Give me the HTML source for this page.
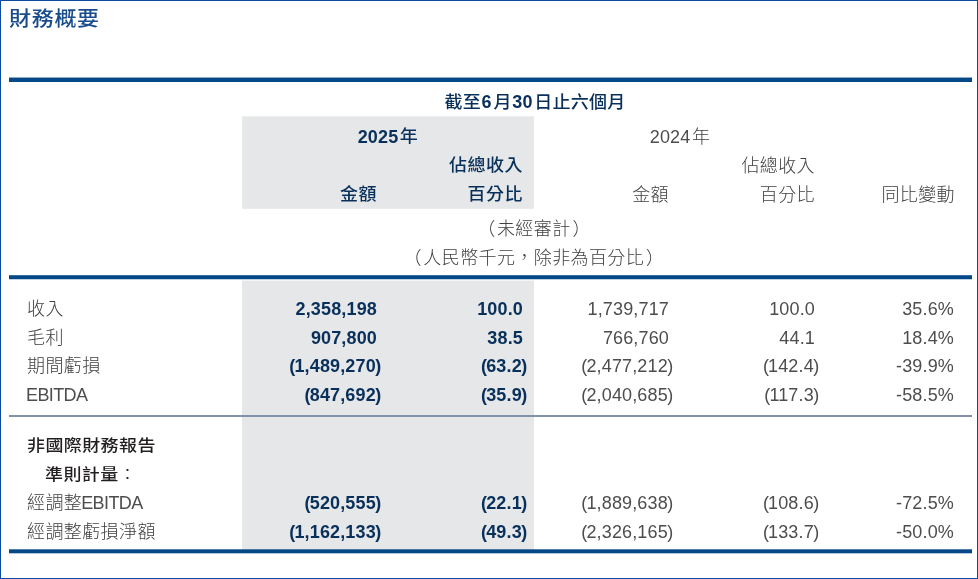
<!DOCTYPE html>
<html lang="zh-Hant">
<head>
<meta charset="utf-8">
<title>財務概要</title>
<style>
html,body{margin:0;padding:0;background:#fff;}
body{width:978px;height:579px;position:relative;overflow:hidden;
 font-family:"Liberation Sans","Noto Sans CJK TC",sans-serif;font-size:18px;line-height:28px;}
#frame{position:absolute;left:0;top:0;width:976px;height:577px;border:1px solid #0c4ba1;}
.bg{position:absolute;background:#e6e7e8;}
.rule{position:absolute;left:9px;width:963px;}
.thin{position:absolute;left:9px;width:963px;background:#8192a8;}
h1{position:absolute;margin:0;left:9px;top:4px;transform:scaleY(.92);transform-origin:0 26px;font-size:22px;line-height:30px;font-weight:500;letter-spacing:.7px;color:#184c8a;white-space:nowrap;}
.c,.l,.m{position:absolute;white-space:nowrap;height:28px;}
.c{text-align:right;}
.m{text-align:center;}
.b{font-weight:700;color:#09305a;letter-spacing:.15px;}
.b .k{font-weight:500;letter-spacing:.5px;}
.n{font-weight:400;color:#4d4d4f;letter-spacing:.15px;}
.n .k{font-weight:300;letter-spacing:.4px;color:#404042;}
.d{font-weight:500;color:#231f20;}
.d .k{letter-spacing:.4px;}
.d .k.lt{font-weight:300;}
.b .k,.d .k{display:inline-block;transform:scaleY(.91);transform-origin:50% 22.3px;}
.b .k{transform:translateY(-1px) scaleY(.96);}

.yr{margin-left:1.5px;}
.hh .k{letter-spacing:.25px;transform:translateY(-.4px) scaleY(.96);}
.lp{margin-right:-1px;}
.rp{margin-left:-.5px;}
i{font-style:normal;}
.g1{margin:0 1.8px 0 .3px;}
.g2{margin:0 1.6px 0 .6px;}
.pl{margin-right:1.4px;}
.pr{margin-left:1.9px;}
.e{letter-spacing:-.6px;margin-left:-1px;}
</style>
</head>
<body>
<div id="frame"></div>
<h1>財務概要</h1>
<div class="bg" style="left:242px;top:116px;width:292px;height:93px;background:linear-gradient(to bottom,rgba(230,231,232,.7) 0,rgba(230,231,232,.7) 1px,#e6e7e8 1px,#e6e7e8 92px,rgba(230,231,232,.8) 92px)"></div>
<div class="bg" style="left:242px;top:280px;width:292px;height:270px;background:linear-gradient(to bottom,rgba(230,231,232,.4) 0,rgba(230,231,232,.4) 1px,#e6e7e8 1px)"></div>
<div class="rule" style="top:77px;height:5px;background:linear-gradient(to bottom,rgba(5,72,136,.45) 0,rgba(5,72,136,.45) 1px,#054888 1px)"></div>
<div class="rule" style="top:275px;height:5px;background:linear-gradient(to bottom,rgba(5,72,136,.8) 0,rgba(5,72,136,.8) 1px,#054888 1px,#054888 4px,rgba(5,72,136,.25) 4px)"></div>
<div class="thin" style="top:415px;height:2px"></div>
<div class="rule" style="top:549px;height:5px;background:linear-gradient(to bottom,rgba(5,72,136,.7) 0,rgba(5,72,136,.7) 1px,#054888 1px,#054888 4px,rgba(5,72,136,.3) 4px)"></div>

<div class="m b hh" style="left:335px;width:400px;top:88px"><span class="k">截至</span><i class="g1">6</i><span class="k">月</span><i class="g2">30</i><span class="k">日止六個月</span></div>
<div class="m b" style="left:188px;width:400px;top:123px">2025<span class="k yr">年</span></div>
<div class="m n" style="left:480px;width:400px;top:123px">2024<span class="k yr">年</span></div>
<div class="c b" style="right:455px;top:152px"><span class="k">佔總收入</span></div>
<div class="c n" style="right:163px;top:152px"><span class="k">佔總收入</span></div>
<div class="c b" style="right:601px;top:181px"><span class="k">金額</span></div>
<div class="c b" style="right:455px;top:181px"><span class="k">百分比</span></div>
<div class="c n" style="right:309px;top:181px"><span class="k">金額</span></div>
<div class="c n" style="right:163px;top:181px"><span class="k">百分比</span></div>
<div class="c n" style="right:23px;top:181px"><span class="k">同比變動</span></div>
<div class="m n" style="left:334px;width:400px;top:215px"><span class="k"><span class="pl">（</span>未經審計<span class="pr">）</span></span></div>
<div class="m n" style="left:334px;width:400px;top:244px"><span class="k"><span class="pl">（</span>人民幣千元，除非為百分比<span class="pr">）</span></span></div>
<div class="l n" style="left:27px;top:295px"><span class="k">收入</span></div>
<div class="c b" style="right:601px;top:295px">2,358,198</div>
<div class="c b" style="right:455px;top:295px">100.0</div>
<div class="c n" style="right:309px;top:295px">1,739,717</div>
<div class="c n" style="right:163px;top:295px">100.0</div>
<div class="c n" style="right:24px;top:295px">35.6%</div>
<div class="l n" style="left:27px;top:324px"><span class="k">毛利</span></div>
<div class="c b" style="right:601px;top:324px">907,800</div>
<div class="c b" style="right:455px;top:324px">38.5</div>
<div class="c n" style="right:309px;top:324px">766,760</div>
<div class="c n" style="right:163px;top:324px">44.1</div>
<div class="c n" style="right:24px;top:324px">18.4%</div>
<div class="l n" style="left:27px;top:352px"><span class="k">期間虧損</span></div>
<div class="c b" style="right:596.5px;top:352px"><i class="lp">(</i>1,489,270<i class="rp">)</i></div>
<div class="c b" style="right:450.5px;top:352px"><i class="lp">(</i>63.2<i class="rp">)</i></div>
<div class="c n" style="right:304.5px;top:352px"><i class="lp">(</i>2,477,212<i class="rp">)</i></div>
<div class="c n" style="right:158.5px;top:352px"><i class="lp">(</i>142.4<i class="rp">)</i></div>
<div class="c n" style="right:24px;top:352px">-39.9%</div>
<div class="l n" style="left:27px;top:381px"><span class="e">EBITDA</span></div>
<div class="c b" style="right:596.5px;top:381px"><i class="lp">(</i>847,692<i class="rp">)</i></div>
<div class="c b" style="right:450.5px;top:381px"><i class="lp">(</i>35.9<i class="rp">)</i></div>
<div class="c n" style="right:304.5px;top:381px"><i class="lp">(</i>2,040,685<i class="rp">)</i></div>
<div class="c n" style="right:158.5px;top:381px"><i class="lp">(</i>117.3<i class="rp">)</i></div>
<div class="c n" style="right:24px;top:381px">-58.5%</div>
<div class="l d" style="left:27px;top:431px"><span class="k">非國際財務報告</span></div>
<div class="l d" style="left:45px;top:460px"><span class="k">準則計量</span><span class="k lt">：</span></div>
<div class="l n" style="left:27px;top:489px"><span class="k">經調整</span><span class="e">EBITDA</span></div>
<div class="c b" style="right:596.5px;top:489px"><i class="lp">(</i>520,555<i class="rp">)</i></div>
<div class="c b" style="right:450.5px;top:489px"><i class="lp">(</i>22.1<i class="rp">)</i></div>
<div class="c n" style="right:304.5px;top:489px"><i class="lp">(</i>1,889,638<i class="rp">)</i></div>
<div class="c n" style="right:158.5px;top:489px"><i class="lp">(</i>108.6<i class="rp">)</i></div>
<div class="c n" style="right:24px;top:489px">-72.5%</div>
<div class="l n" style="left:27px;top:518px"><span class="k">經調整虧損淨額</span></div>
<div class="c b" style="right:596.5px;top:518px"><i class="lp">(</i>1,162,133<i class="rp">)</i></div>
<div class="c b" style="right:450.5px;top:518px"><i class="lp">(</i>49.3<i class="rp">)</i></div>
<div class="c n" style="right:304.5px;top:518px"><i class="lp">(</i>2,326,165<i class="rp">)</i></div>
<div class="c n" style="right:158.5px;top:518px"><i class="lp">(</i>133.7<i class="rp">)</i></div>
<div class="c n" style="right:24px;top:518px">-50.0%</div>
</body>
</html>
